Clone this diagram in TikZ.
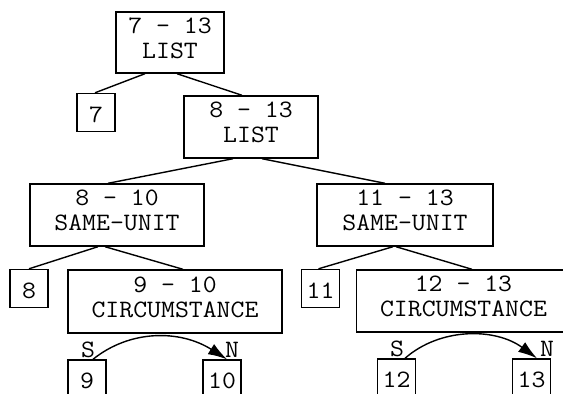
\documentclass[tikz,border=0pt]{standalone}
\usepackage{fontspec}
\usetikzlibrary{arrows.meta}
% typewriter text, widened slightly
\newcommand{\tw}[1]{\scalebox{1.08}[1]{#1}}
\newcommand{\spanbox}[2]{\tw{#1}\\\tw{#2}\rule[-9pt]{0pt}{9pt}}
\newcommand{\leafbox}[1]{\tw{#1}\rule{0pt}{19.3pt}}
\tikzset{
  x=1pt, y=-1pt,
  box/.style={draw, line width=1.4pt, inner sep=0pt, align=center,
    font=\fontsize{25}{25}\selectfont\ttfamily},
  leaf/.style={box, minimum width=38pt, minimum height=38pt},
  edge/.style={line width=1.4pt},
  rel/.style={line width=1.4pt, -{Latex[length=19pt,width=12pt]}},
  role/.style={inner sep=0pt, font=\fontsize{25}{25}\selectfont\ttfamily}
}
\begin{document}
\begin{tikzpicture}
\useasboundingbox (0,0) rectangle (563,394);
% internal spans
\node[box, minimum width=108pt, minimum height=61pt] (n713) at (170,42.5) {\spanbox{7 - 13}{LIST}};
\node[box, minimum width=134pt, minimum height=62pt] (n813) at (251,127) {\spanbox{8 - 13}{LIST}};
\node[box, minimum width=174pt, minimum height=62pt] (n810) at (117,215) {\spanbox{8 - 10}{SAME-UNIT}};
\node[box, minimum width=176pt, minimum height=62pt] (n1113) at (405,215) {\spanbox{11 - 13}{SAME-UNIT}};
\node[box, minimum width=214pt, minimum height=63pt] (n910) at (175,301.5) {\spanbox{9 - 10}{CIRCUMSTANCE}};
\node[box, minimum width=214pt, minimum height=62pt] (n1213) at (463.5,301) {\spanbox{12 - 13}{CIRCUMSTANCE}};
% elementary units
\node[leaf] (n7) at (96,112.5) {\leafbox{7}};
\node[leaf] (n8) at (29,288.5) {\leafbox{8}};
\node[leaf] (n11) at (320.5,288.5) {\leafbox{11}};
\node[leaf] (n9) at (87,379) {\leafbox{9}};
\node[leaf] (n10) at (222,379) {\leafbox{10}};
\node[leaf] (n12) at (396.5,378) {\leafbox{12}};
\node[leaf] (n13) at (531.5,378) {\leafbox{13}};
% tree edges
\draw[edge] ([xshift=-25pt]n713.south) -- ([xshift=-1pt]n7.north);
\draw[edge] ([xshift=7pt]n713.south) -- ([xshift=-9pt]n813.north);
\draw[edge] ([xshift=-18pt]n813.south) -- ([xshift=-9pt]n810.north);
\draw[edge] ([xshift=11pt]n813.south) -- ([xshift=-20pt]n1113.north);
\draw[edge] ([xshift=-19pt]n810.south) -- (n8.north);
\draw[edge] ([xshift=-12pt]n810.south) -- ([xshift=8pt]n910.north);
\draw[edge] ([xshift=-12pt]n1113.south) -- ([xshift=-2pt]n11.north);
\draw[edge] ([xshift=-9pt]n1113.south) -- ([xshift=8.5pt]n1213.north);
% nucleus/satellite relations
\node[role] (s1) at (88,350) {\tw{S}};
\node[role] (r1) at (232,350) {\tw{N}};
\node[role] (s2) at (397,349) {\tw{S}};
\node[role] (r2) at (547,349) {\tw{N}};
\draw[rel] ([xshift=6pt]n9.north) .. controls (130,329.5) and (180,329.5) .. ([xshift=5pt]n10.north);
\draw[rel] ([xshift=8.5pt]n12.north) .. controls (440,327.5) and (495,327.5) .. ([xshift=5.5pt]n13.north);
\end{tikzpicture}
\end{document}
